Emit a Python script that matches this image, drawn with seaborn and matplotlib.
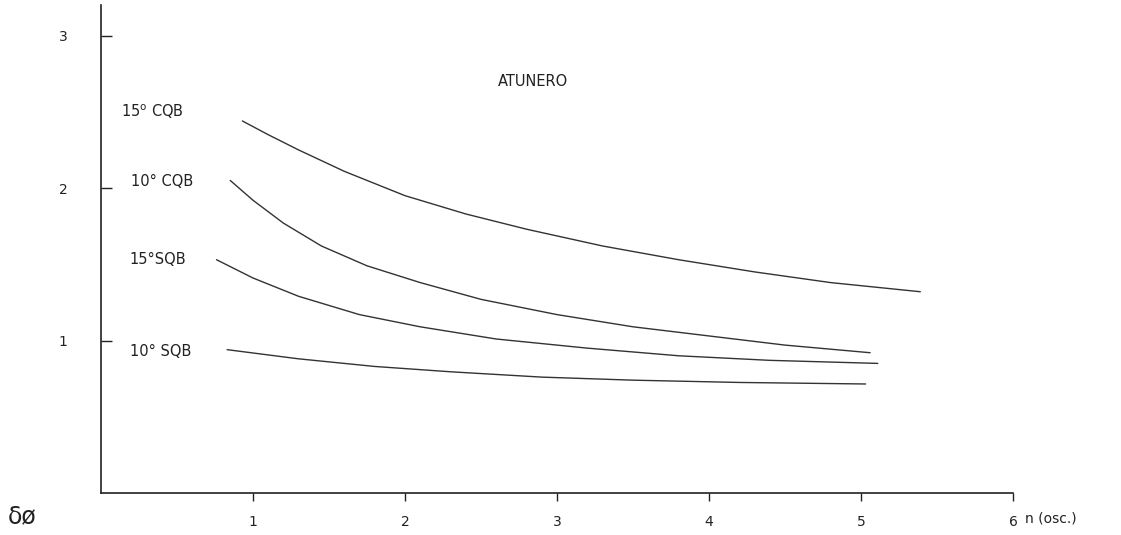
import matplotlib
matplotlib.use("Agg")
import matplotlib.pyplot as plt
import seaborn as sns
import pandas as pd

# valores (n de oscilaciones vs decremento)
n_15cqb = [0.93, 1.1, 1.3, 1.6, 2.0, 2.4, 2.8, 3.3, 3.8, 4.3, 4.8, 5.39]
d_15cqb = [2.44, 2.35, 2.25, 2.11, 1.95, 1.83, 1.73, 1.62, 1.53, 1.45, 1.38, 1.32]

n_10cqb = [0.85, 1.0, 1.2, 1.45, 1.75, 2.1, 2.5, 3.0, 3.5, 4.0, 4.5, 5.06]
d_10cqb = [2.05, 1.92, 1.77, 1.62, 1.49, 1.38, 1.27, 1.17, 1.09, 1.03, 0.97, 0.92]

n_15sqb = [0.76, 1.0, 1.3, 1.7, 2.1, 2.6, 3.2, 3.8, 4.4, 5.11]
d_15sqb = [1.53, 1.41, 1.29, 1.17, 1.09, 1.01, 0.95, 0.90, 0.87, 0.85]

n_10sqb = [0.83, 1.3, 1.8, 2.3, 2.9, 3.5, 4.2, 5.03]
d_10sqb = [0.94, 0.88, 0.83, 0.795, 0.76, 0.74, 0.725, 0.715]

etiquetas = ["15$^{\\rm o}$ CQB", "10° CQB", "15°SQB", "10° SQB"]
pos_etiquetas = [(0.13, 2.50), (0.20, 2.04), (0.19, 1.53), (0.19, 0.93)]

xticks = [1, 2, 3, 4, 5, 6]
yticks = [1, 2, 3]

curvas = [(n_15cqb, d_15cqb), (n_10cqb, d_10cqb), (n_15sqb, d_15sqb), (n_10sqb, d_10sqb)]
df = pd.concat(
    [pd.DataFrame({"n": n, "d": d, "curva": etiquetas[i]}) for i, (n, d) in enumerate(curvas)],
    ignore_index=True,
)

sns.set_style("ticks")
plt.rcParams["font.family"] = ["DejaVu Sans"]

fig = plt.figure(figsize=(11.21, 5.35), dpi=100)
ax = fig.add_axes([0.0901, 0.0785, 0.8136, 0.912])

sns.lineplot(data=df, x="n", y="d", hue="curva", palette=["#333333"] * 4,
             linewidth=1.0, legend=False, sort=False, estimator=None, ax=ax)

for txt, (x, y) in zip(etiquetas, pos_etiquetas):
    ax.text(x, y, txt, fontsize=10.5, ha="left", va="center", color="#222222")
ax.text(2.84, 2.70, "ATUNERO", fontsize=10.5, ha="center", va="center", color="#222222")

ax.set_xlim(0, 6)
ax.set_ylim(0, 3.2)
ax.set_xticks(xticks)
ax.set_yticks(yticks)
ax.tick_params(axis="x", direction="out", length=6, width=1, labelsize=10, pad=10, colors="#222222")
ax.tick_params(axis="y", direction="in", length=8, width=1, labelsize=10, pad=24, colors="#222222")
ax.set_xlabel("")
ax.set_ylabel("")
sns.despine(ax=ax)
for s in ["left", "bottom"]:
    ax.spines[s].set_linewidth(1.2)
    ax.spines[s].set_color("#222222")

fig.text(1025 / 1121, 1 - 518 / 535, "n (osc.)", fontsize=10, ha="left", va="center", color="#222222")
fig.text(8 / 1121, 1 - 516 / 535, "δø", fontsize=17, ha="left", va="center", color="#222222")

fig.savefig("out.png", dpi=100)
